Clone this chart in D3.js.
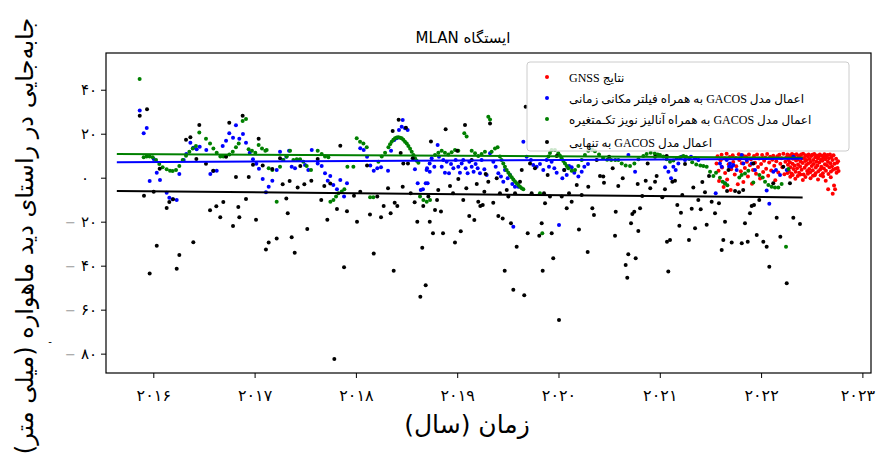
<!DOCTYPE html>
<html><head><meta charset="utf-8">
<script src="https://cdn.jsdelivr.net/npm/d3@7"></script>
<style>body{margin:0;background:#fff}svg{display:block}</style>
</head><body>
<svg id="c" width="877" height="459"></svg>
<script>
const xTicks = [2016,2017,2018,2019,2020,2021,2022,2023];
const xTickLabels = ['۲۰۱۶','۲۰۱۷','۲۰۱۸','۲۰۱۹','۲۰۲۰','۲۰۲۱','۲۰۲۲','۲۰۲۳'];
const yTicks = [40,20,0,-20,-40,-60,-80];
const yTickLabels = ['۴۰','۲۰','۰','−۲۰','−۴۰','−۶۰','−۸۰'];

const titleText = 'ایستگاه MLAN';
const xTitle = 'زمان (سال)';
const yTitle = 'جابه‌جایی در راستای دید ماهواره (میلی متر)';
const legendLabels = ['نتایج GNSS','اعمال مدل GACOS به همراه فیلتر مکانی زمانی','اعمال مدل GACOS به همراه آنالیز نویز تکـمتغیره','اعمال مدل GACOS به تنهایی'];
const seriesColors = ['#ff0000','#0000ff','#008000','#000000'];

// trend lines [start year, end year] and values
const trendYears = [2015.64, 2022.41];
const greenTrend = [10.8, 9.1];
const blueTrend = [7.0, 8.6];
const blackTrend = [-6.0, -9.0];

const redPts = [[2021.56,6.5],[2021.57,9.8],[2021.58,3.2],[2021.585,-1.5],[2021.60,7.9],[2021.61,10.4],[2021.615,4.6],[2021.63,-4.2],[2021.64,8.8],[2021.645,2.1],[2021.66,10.9],[2021.665,-0.8],[2021.68,6.1],[2021.69,9.4],[2021.70,-5.6],[2021.705,3.8],[2021.72,10.2],[2021.725,7.1],[2021.74,1.4],[2021.75,9.0],[2021.755,5.2],[2021.77,-3.0],[2021.78,10.7],[2021.785,8.1],[2021.80,2.9],[2021.81,6.6],[2021.82,10.1],[2021.825,-1.9],[2021.84,4.4],[2021.85,9.6],[2021.86,7.3],[2021.87,0.6],[2021.88,10.5],[2021.89,5.7],[2021.90,8.4],[2021.91,-2.8],[2021.92,3.5],[2021.93,9.9],[2021.94,6.8],[2021.95,1.8],[2021.96,10.6],[2021.97,4.9],[2021.98,8.7],[2021.99,-0.4],[2022.00,6.2],[2022.01,10.3],[2022.02,2.6],[2022.03,7.7],[2022.04,9.2],[2022.05,4.1],[2022.06,10.8],[2022.07,0.9],[2022.08,6.9],[2022.09,9.5],[2022.10,3.3],[2022.11,8.2],[2022.12,10.0],[2022.13,5.4],[2022.14,-1.2],[2022.15,7.5],[2022.16,9.7],[2022.17,2.4],[2022.18,10.4],[2022.19,6.3],[2022.20,8.9],[2022.21,4.7],[2022.22,10.9],[2022.23,1.6],[2022.24,7.2],[2022.25,9.3],
[2022.26,10.6],[2022.265,5.9],[2022.27,8.0],[2022.275,3.1],[2022.28,10.1],[2022.285,7.0],[2022.29,4.8],[2022.295,9.6],[2022.30,1.9],[2022.305,10.8],[2022.31,6.4],[2022.315,8.6],[2022.32,3.9],[2022.325,10.3],[2022.33,5.5],[2022.335,9.1],[2022.34,2.7],[2022.345,7.8],[2022.35,10.7],[2022.355,4.3],[2022.36,8.3],[2022.365,6.0],[2022.37,10.0],[2022.375,2.2],[2022.38,9.4],[2022.385,5.1],[2022.39,7.4],[2022.395,10.5],[2022.40,3.6],[2022.405,8.8],[2022.41,6.7],[2022.415,10.9],[2022.42,1.4],[2022.425,9.0],[2022.43,4.5],[2022.435,7.6],[2022.44,10.2],[2022.445,5.8],[2022.45,8.1],[2022.455,3.0],[2022.46,9.8],[2022.465,6.5],[2022.47,10.6],[2022.475,4.0],[2022.48,8.5],[2022.485,2.5],[2022.49,7.1],[2022.495,9.9],[2022.50,5.3],[2022.505,10.4],[2022.51,3.4],[2022.515,8.0],[2022.52,6.2],[2022.525,10.8],[2022.53,1.1],[2022.535,9.3],[2022.54,4.6],[2022.545,7.3],[2022.55,10.1],[2022.555,5.6],[2022.56,8.7],[2022.565,2.9],[2022.57,9.6],[2022.575,6.9],[2022.58,10.5],[2022.585,3.8],[2022.59,8.2],[2022.595,5.0],[2022.60,10.0],[2022.605,7.7],[2022.61,2.0],[2022.615,9.2],[2022.62,4.2],[2022.625,10.7],[2022.63,6.1],[2022.635,8.4],[2022.64,3.2],[2022.645,9.7],[2022.65,5.7],[2022.655,10.3],[2022.66,7.2],[2022.665,1.7],[2022.67,8.9],[2022.675,4.8],[2022.68,10.6],[2022.685,6.6],[2022.69,2.8],[2022.695,9.4],[2022.70,5.2],[2022.705,8.0],[2022.71,3.6],[2022.715,10.2],[2022.72,-3.5],[2022.725,6.3],[2022.73,-5.2],[2022.735,4.1],[2022.74,8.6],[2022.745,2.3],[2022.75,6.8],[2022.755,4.4],[2022.76,7.5],[2022.765,3.0],
[2022.262,2.1],[2022.288,0.4],[2022.312,1.2],[2022.338,-0.5],[2022.362,0.8],[2022.388,1.5],[2022.412,-1.0],[2022.438,0.3],[2022.462,1.8],[2022.488,-0.2],[2022.512,0.9],[2022.538,2.0],[2022.562,-0.8],[2022.588,1.1],[2022.612,0.5],[2022.638,-1.4],[2022.662,-5.3],[2022.688,0.2],[2022.707,-7.3]];

const bluePts = [[2015.866,30.6],[2015.905,20.2],[2015.935,22.6],[2015.964,-1.5],[2016.004,8.5],[2016.034,2.3],[2016.066,-1.0],[2016.132,-6.8],[2016.158,-9.1],[2016.191,-9.8],[2016.231,-10.1],[2016.257,1.7],[2016.300,8.0],[2016.326,10.8],[2016.366,15.9],[2016.395,13.6],[2016.428,12.9],[2016.458,14.1],[2016.523,12.6],[2016.563,1.7],[2016.592,3.0],[2016.626,3.2],[2016.685,14.4],[2016.718,16.8],[2016.750,20.2],[2016.787,18.2],[2016.816,23.8],[2016.849,17.7],[2016.885,19.9],[2016.915,15.9],[2016.952,11.4],[2016.984,8.4],[2017.017,6.4],[2017.043,4.1],[2017.080,-0.6],[2017.112,-6.6],[2017.139,-4.1],
[2017.175,-1.4],[2017.218,3.5],[2017.251,11.8],[2017.283,8.0],[2017.313,9.5],[2017.340,12.3],[2017.366,5.0],[2017.399,4.3],[2017.431,8.0],[2017.498,5.8],[2017.530,3.5],[2017.564,12.6],[2017.623,6.5],[2017.662,5.3],[2017.695,2.0],[2017.722,-1.4],[2017.747,0.8],[2017.777,-3.3],[2017.813,-5.3],[2017.846,-1.0],[2017.883,-8.6],[2017.912,-2.5],[2018.043,13.4],[2018.077,12.6],[2018.110,9.5],[2018.142,5.6],[2018.176,3.2],[2018.211,4.3],[2018.248,4.7],[2018.317,3.2],[2018.347,12.3],[2018.379,17.1],[2018.403,17.9],[2018.425,21.7],[2018.452,23.2],[2018.462,26.2],[2018.485,22.5],[2018.511,21.7],[2018.583,3.8],[2018.610,-2.5],[2018.640,-5.6],[2018.662,-5.3],[2018.689,-2.5],[2018.702,4.3],[2018.729,2.7],
[2018.698,3.5],[2018.708,-2.5],[2018.728,6.5],[2018.748,8.8],[2018.774,5.0],[2018.807,14.9],[2018.820,9.5],[2018.847,5.0],[2018.863,8.0],[2018.879,2.3],[2018.896,7.3],[2018.919,2.0],[2018.939,6.2],[2018.962,4.3],[2018.985,8.0],[2019.011,5.0],[2019.027,2.3],[2019.044,6.5],[2019.060,8.0],[2019.083,4.3],[2019.103,2.0],[2019.120,7.3],[2019.143,5.0],[2019.162,2.7],[2019.182,6.2],[2019.202,4.3],[2019.225,2.0],[2019.241,8.0],[2019.268,3.8],[2019.291,1.2],[2019.324,11.1],[2019.357,7.3],[2019.380,5.0],[2019.406,2.0],[2019.432,0.5],[2019.455,-1.8],[2019.472,3.5],[2019.498,-0.3],[2019.521,1.2],[2019.544,-2.9],[2019.570,-4.1],[2019.603,-4.1],[2019.554,-22.3],[2019.653,16.4],[2019.686,9.5],[2019.728,8.0],[2019.751,5.8],[2019.784,5.0],[2019.817,6.2],[2019.850,3.5],[2019.883,8.0],[2019.906,5.0],[2019.932,7.3],[2019.959,4.3],[2019.982,2.3],[2020.005,-21.5],[2020.038,-0.3],[2020.057,3.5],[2020.081,1.2],[2020.104,5.3],[2020.130,4.7],[2020.156,2.3],[2020.196,0.5],[2020.229,2.7],[2020.255,5.0],[2020.291,6.2],
[2020.690,10.3],[2020.756,2.7],[2021.052,4.7],[2021.085,2.7],[2021.111,-0.3],[2021.134,5.0],[2021.157,3.5],[2021.183,6.5],[2021.216,9.5],[2021.249,8.0],[2021.308,9.5],[2021.348,8.8],[2021.381,8.0],[2021.552,-7.1],[2021.611,5.0],[2021.661,8.0],[2021.684,5.0],[2021.710,5.0],[2021.759,3.5],[2021.792,8.8],[2021.825,6.5],[2021.858,8.0],
[2021.594,6.5],[2021.644,-2.5],[2021.693,6.5],[2021.726,5.8],[2021.808,10.3],[2021.907,6.5],[2021.940,3.5],[2022.055,-5.8],[2022.081,-11.9],[2022.121,2.7],[2022.147,3.5],[2022.187,1.2],[2022.253,3.5],[2022.318,9.5]];

const greenPts = [[2015.865,44.9],[2015.905,9.3],[2015.934,9.6],[2015.964,9.6],[2015.994,9.3],[2016.027,8.0],[2016.059,6.2],[2016.092,4.7],[2016.132,3.8],[2016.165,3.2],[2016.191,3.0],[2016.224,3.5],[2016.257,5.3],[2016.290,8.0],[2016.323,10.0],[2016.356,11.8],[2016.389,13.3],[2016.421,14.4],[2016.454,20.6],[2016.520,17.7],[2016.560,15.6],[2016.593,13.3],[2016.626,11.4],[2016.662,9.6],[2016.691,9.6],[2016.718,9.9],[2016.751,10.6],[2016.784,11.8],[2016.816,13.8],[2016.843,15.6],[2016.882,25.8],[2016.915,26.7],[2016.941,12.9],[2016.974,12.3],[2017.007,11.4],[2017.040,14.9],[2017.073,13.3],[2017.106,12.3],[2017.139,4.3],
[2017.119,12.6],[2017.175,3.5],[2017.218,-10.9],[2017.251,5.0],[2017.284,8.0],[2017.317,9.6],[2017.350,12.3],[2017.383,8.0],[2017.416,8.4],[2017.449,8.4],[2017.481,7.3],[2017.514,5.3],[2017.557,3.5],[2017.623,12.3],[2017.662,10.8],[2017.695,9.6],[2017.728,9.3],[2017.748,-10.9],[2017.778,-10.1],[2017.804,-8.6],[2017.827,-7.1],[2017.860,-6.3],[2017.886,-5.3],[2017.916,5.0],[2017.975,5.0],[2018.008,17.9],[2018.041,16.4],[2018.074,15.6],[2018.107,13.8],[2018.140,-8.9],[2018.172,-8.9],[2018.222,7.3],[2018.255,9.6],[2018.288,11.4],[2018.321,13.8],[2018.337,15.2],[2018.353,16.4],[2018.370,17.3],[2018.386,17.9],[2018.403,18.3],[2018.419,18.4],[2018.436,18.2],[2018.452,17.9],[2018.468,17.3],[2018.485,16.4],[2018.502,15.5],[2018.518,14.4],[2018.535,13.2],[2018.551,11.8],[2018.568,10.3],[2018.584,8.8],[2018.600,7.7],[2018.617,6.8],[2018.633,-8.6],[2018.666,-10.1],[2018.699,-10.9],[2018.732,-10.1],
[2018.781,10.3],[2018.814,11.4],[2018.847,12.3],[2018.879,11.4],[2018.912,10.5],[2018.945,11.6],[2018.978,12.6],[2019.011,12.3],[2019.070,20.2],[2019.093,18.7],[2019.143,12.3],[2019.176,11.1],[2019.208,9.9],[2019.241,10.8],[2019.274,11.8],[2019.307,27.7],[2019.324,26.5],[2019.340,11.8],[2019.373,13.3],[2019.399,13.8],[2019.422,9.6],[2019.438,8.0],[2019.455,6.5],[2019.471,5.0],[2019.488,3.5],[2019.505,2.3],[2019.521,1.2],[2019.538,0.2],[2019.554,-0.8],[2019.570,-1.7],[2019.587,-2.5],[2019.604,-3.3],[2019.620,-4.1],[2019.637,-4.8],[2019.653,-5.3],[2019.817,-7.1],[2019.840,-25.3],[2019.900,9.6],[2019.916,11.2],[2019.932,12.6],[2019.965,12.6],[2019.998,11.1],[2020.015,10.0],[2020.031,8.8],[2020.048,7.6],[2020.064,6.5],[2020.081,5.3],[2020.097,4.3],[2020.130,3.2],[2020.163,3.5],[2020.196,5.3],[2020.229,8.0],[2020.261,10.3],[2020.294,12.3],
[2020.33,12.8],[2020.36,12.0],[2020.40,10.5],[2020.44,9.0],[2020.48,8.2],[2020.52,8.0],[2020.56,8.0],[2020.591,8.0],[2020.624,6.5],[2020.663,5.6],[2020.706,5.3],[2020.749,6.5],[2020.789,8.4],[2020.838,9.9],[2020.87,10.8],[2020.91,11.3],[2020.95,11.0],[2020.98,10.6],[2021.002,10.3],[2021.035,9.6],[2021.068,8.4],[2021.101,7.3],[2021.134,7.8],[2021.167,8.8],[2021.200,9.3],[2021.233,9.9],[2021.26,9.5],[2021.29,8.5],[2021.32,7.0],[2021.36,6.0],[2021.40,5.5],[2021.43,5.3],[2021.463,5.0],[2021.496,2.7],[2021.529,0.8],[2021.555,2.3],[2021.594,0.0],[2021.621,-1.8],[2021.644,-2.6],[2021.667,-3.4],[2021.785,0.1],[2021.808,1.2],[2021.841,1.9],[2021.874,3.2],[2021.923,-2.2],[2021.983,1.2],[2022.016,0.1],[2022.039,-1.8],[2022.072,-3.3],[2022.104,-4.1],[2022.137,-4.5],[2022.170,-4.4],[2022.203,-2.9],[2022.246,-31.4],[2022.269,4.0]];

const blackPts = [[2015.866,28.2],[2015.938,31.1],[2015.908,-8.2],[2015.964,-43.6],[2016.034,-30.9],[2016.004,-6.4],[2016.063,4.1],[2016.132,-13.8],[2016.158,-11.0],[2016.195,-9.8],[2016.231,-41.4],[2016.257,-35.1],[2016.323,17.3],[2016.366,18.4],[2016.395,-29.4],[2016.425,8.5],[2016.454,24.0],[2016.520,6.4],[2016.560,-14.8],[2016.592,3.2],[2016.622,-13.0],[2016.661,-18.0],[2016.691,-11.0],[2016.718,9.5],[2016.750,25.0],[2016.787,-22.0],[2016.816,0.3],[2016.839,-13.3],[2016.849,-18.0],[2016.882,28.2],[2016.915,-9.7],[2016.942,0.3],[2016.984,5.9],[2017.014,-19.1],[2017.040,17.7],[2017.080,5.6],[2017.112,-32.7],[2017.139,-29.5],
[2017.218,-27.6],[2017.175,4.0],[2017.251,8.8],[2017.277,-3.0],[2017.313,-9.5],[2017.327,-16.2],[2017.346,-1.5],[2017.366,-27.1],[2017.396,-34.1],[2017.425,-4.4],[2017.451,5.3],[2017.491,-3.0],[2017.520,-23.3],[2017.560,-1.4],[2017.623,8.5],[2017.658,-10.1],[2017.688,-3.8],[2017.718,-19.1],[2017.747,-2.6],[2017.787,-82.4],[2017.813,-14.2],[2017.846,14.5],[2017.883,-40.7],[2017.912,-15.3],[2017.981,-8.2],[2018.011,-20.0],[2018.043,-6.4],[2018.110,5.5],[2018.139,-16.7],[2018.176,-34.5],[2018.211,-8.5],[2018.248,-18.0],[2018.274,-12.9],[2018.317,-4.8],[2018.343,-16.2],[2018.373,-42.3],[2018.383,-11.4],[2018.409,-12.9],[2018.422,26.4],[2018.363,21.2],[2018.442,11.2],[2018.462,-4.1],[2018.468,6.5],[2018.494,22.7],[2018.514,6.5],[2018.541,-7.1],[2018.561,8.8],[2018.580,-11.2],[2018.606,-20.0],[2018.636,-54.1],[2018.655,-31.8],[2018.689,-48.9],[2018.665,-12.9],[2018.715,-8.6],[2018.729,-20.0],
[2018.741,16.5],[2018.781,-14.7],[2018.801,-10.1],[2018.813,-5.6],[2018.840,-15.4],[2018.860,-25.3],[2018.886,22.0],[2018.761,-25.3],[2018.929,-3.8],[2018.959,-7.1],[2018.978,-29.5],[2019.001,12.3],[2019.011,-0.6],[2019.035,-24.4],[2019.060,-10.1],[2019.077,24.0],[2019.090,-4.8],[2019.119,-17.4],[2019.143,8.0],[2019.169,-19.2],[2019.193,-2.9],[2019.208,-10.9],[2019.228,-12.9],[2019.252,-12.4],[2019.268,-6.4],[2019.281,1.7],[2019.307,-1.8],[2019.324,24.7],[2019.356,-11.4],[2019.390,-0.3],[2019.406,-17.4],[2019.422,-7.1],[2019.449,-18.5],[2019.469,-42.3],[2019.489,-5.6],[2019.505,-8.6],[2019.531,-20.7],[2019.554,-51.0],[2019.571,-7.1],[2019.587,-31.4],[2019.620,-1.8],[2019.637,3.5],[2019.662,-53.5],[2019.676,32.3],[2019.696,-25.3],[2019.719,6.5],[2019.735,-7.1],[2019.768,4.3],[2019.810,-26.4],[2019.834,-20.7],[2019.844,-42.3],[2019.857,-7.1],[2019.867,-11.6],[2019.893,1.2],[2019.916,-8.6],[2019.933,-25.3],[2019.948,-36.6],[2019.982,9.9],[2020.005,-64.7],[2020.032,-8.6],[2020.057,3.5],[2020.081,-13.9],[2020.104,-7.1],[2020.130,-10.9],[2020.180,-3.3],[2020.202,-23.5],[2020.229,-7.9],[2020.288,-33.8],[2020.294,-4.1],
[2020.334,-13.9],[2020.350,-17.0],[2020.377,8.0],[2020.410,0.8],[2020.442,0.5],[2020.449,-2.3],[2020.500,9.5],[2020.535,4.3],[2020.558,-26.4],[2020.565,-15.5],[2020.590,-3.8],[2020.634,-0.3],[2020.663,-39.7],[2020.679,-45.5],[2020.689,-34.8],[2020.716,-20.7],[2020.729,-16.5],[2020.748,-15.5],[2020.762,-36.6],[2020.782,-2.9],[2020.788,-24.2],[2020.805,-13.9],[2020.827,-8.3],[2020.861,-1.4],[2020.880,6.5],[2020.906,-4.8],[2020.953,-1.8],[2020.953,9.5],[2020.969,0.8],[2021.025,-8.9],[2021.051,-5.3],[2021.068,9.9],[2021.071,-29.1],[2021.084,-42.7],[2021.101,-28.3],[2021.124,-1.8],[2021.150,-1.4],[2021.173,-12.4],[2021.193,-21.8],[2021.209,-15.9],[2021.222,-7.9],[2021.249,6.2],[2021.288,-28.3],[2021.315,-14.1],[2021.331,-4.4],[2021.348,-23.0],[2021.380,-10.1],[2021.404,-14.4],[2021.420,-2.0],[2021.446,-6.6],[2021.463,-21.4],[2021.486,0.8],[2021.512,-10.9],[2021.545,-16.2],[2021.584,-11.6],[2021.611,-32.9],[2021.627,-28.3],[2021.644,-20.0],[2021.664,-6.0],[2021.678,3.5],[2021.710,-29.5],[2021.743,-6.0],[2021.782,-6.6],[2021.809,-29.8],[2021.823,-5.6],[2021.841,-20.7],[2021.868,-29.1],[2021.890,-16.2],[2021.907,-12.9],[2021.923,6.5],[2021.930,-12.4],[2021.957,-26.0],[2021.982,-10.1],[2022.022,-29.1],[2022.055,-31.4],[2022.081,-40.5],[2022.120,-2.5],[2022.154,-18.2],[2022.190,-26.8],[2022.219,5.0],[2022.253,-48.0],[2022.285,-2.5],[2022.318,-18.2],[2022.384,-21.0]];

const svg = d3.select('#c');
const x = d3.scaleLinear().domain([2015.533, 2023.085]).range([106, 871]);
const y = d3.scaleLinear().domain([-88.8, 56.7]).range([373, 53]);

// title
svg.append('text').attr('x', 463).attr('y', 43).attr('text-anchor','middle')
  .attr('direction','rtl').style('font-family','DejaVu Sans, sans-serif').style('font-size','15px')
  .text(titleText);

// points
const series = [redPts, bluePts, greenPts, blackPts];
const g = svg.append('g');
series.forEach((pts, i) => {
  g.selectAll(null).data(pts).enter().append('circle')
    .attr('cx', d => x(d[0])).attr('cy', d => y(d[1])).attr('r', 2)
    .attr('fill', seriesColors[i]);
});

// trend lines
const line = d3.line().x(d => x(d[0])).y(d => y(d[1]));
[[greenTrend,'#008000'],[blueTrend,'#0000ff'],[blackTrend,'#000000']].forEach(([t,c]) => {
  svg.append('path').datum(trendYears.map((yr,i)=>[yr,t[i]]))
    .attr('d', line).attr('fill','none').attr('stroke',c).attr('stroke-width',2);
});

// axes
const xAxis = svg.append('g').attr('transform','translate(0,373)')
  .call(d3.axisBottom(x).tickValues(xTicks).tickFormat((d,i)=>xTickLabels[i]).tickSize(5).tickSizeOuter(0).tickPadding(12));
xAxis.selectAll('text').style('font-family','DejaVu Sans, sans-serif').style('font-size','16px').attr('fill','#000')
  .attr('dx', (d,i) => i === xTicks.length - 1 ? -5 : 0);
xAxis.select('.domain').remove();
const yAxis = svg.append('g').attr('transform','translate(106,0)')
  .call(d3.axisLeft(y).tickValues(yTicks).tickFormat((d,i)=>yTickLabels[i]).tickSize(5).tickSizeOuter(0).tickPadding(4));
yAxis.select('.domain').remove();
yAxis.selectAll('text').style('font-family','DejaVu Sans, sans-serif').style('font-size','15px').attr('fill','#000')
  .each(function(d,i){
    const t = d3.select(this); const lab = yTickLabels[i];
    if (lab[0] === '−') {
      t.text(null);
      t.append('tspan').attr('fill','#999').style('font-size','13px').text('−');
      t.append('tspan').attr('dx', 5).text(lab.slice(1));
    } else if (d === 0) { t.attr('dx', -8); }
  });
svg.selectAll('.tick line').attr('stroke','#000');

// frame
svg.append('rect').attr('x',106).attr('y',53).attr('width',765).attr('height',320)
  .attr('fill','none').attr('stroke','#000').attr('stroke-width',1.2);

// legend
const lg = svg.append('g');
lg.append('rect').attr('x',527).attr('y',62).attr('width',322).attr('height',89).attr('rx',3)
  .attr('fill','#fff').attr('fill-opacity',0.8).attr('stroke','#ccc');
const rowsY = [77, 98, 119, 142];
legendLabels.forEach((lab,i) => {
  lg.append('circle').attr('cx',547).attr('cy',rowsY[i]).attr('r',2).attr('fill',seriesColors[i]);
  lg.append('text').attr('x',569).attr('y',rowsY[i]+5).attr('direction','rtl').attr('text-anchor','end')
    .style('font-family','Liberation Serif, DejaVu Sans, serif').style('font-size','12px').text(lab);
});

// axis titles
svg.append('text').attr('x',467).attr('y',433).attr('text-anchor','middle').attr('direction','rtl')
  .style('font-family','DejaVu Sans, sans-serif').style('font-size','25px').text(xTitle);
svg.append('text').attr('transform','translate(33,236) rotate(-90)').attr('text-anchor','middle').attr('direction','rtl')
  .style('font-family','DejaVu Sans, sans-serif').style('font-size','24px').text(yTitle);
svg.append('text').attr('x',50).attr('y',345).attr('text-anchor','middle').style('font-size','10px').style('font-family','DejaVu Sans').text('-');
</script>
</body></html>
